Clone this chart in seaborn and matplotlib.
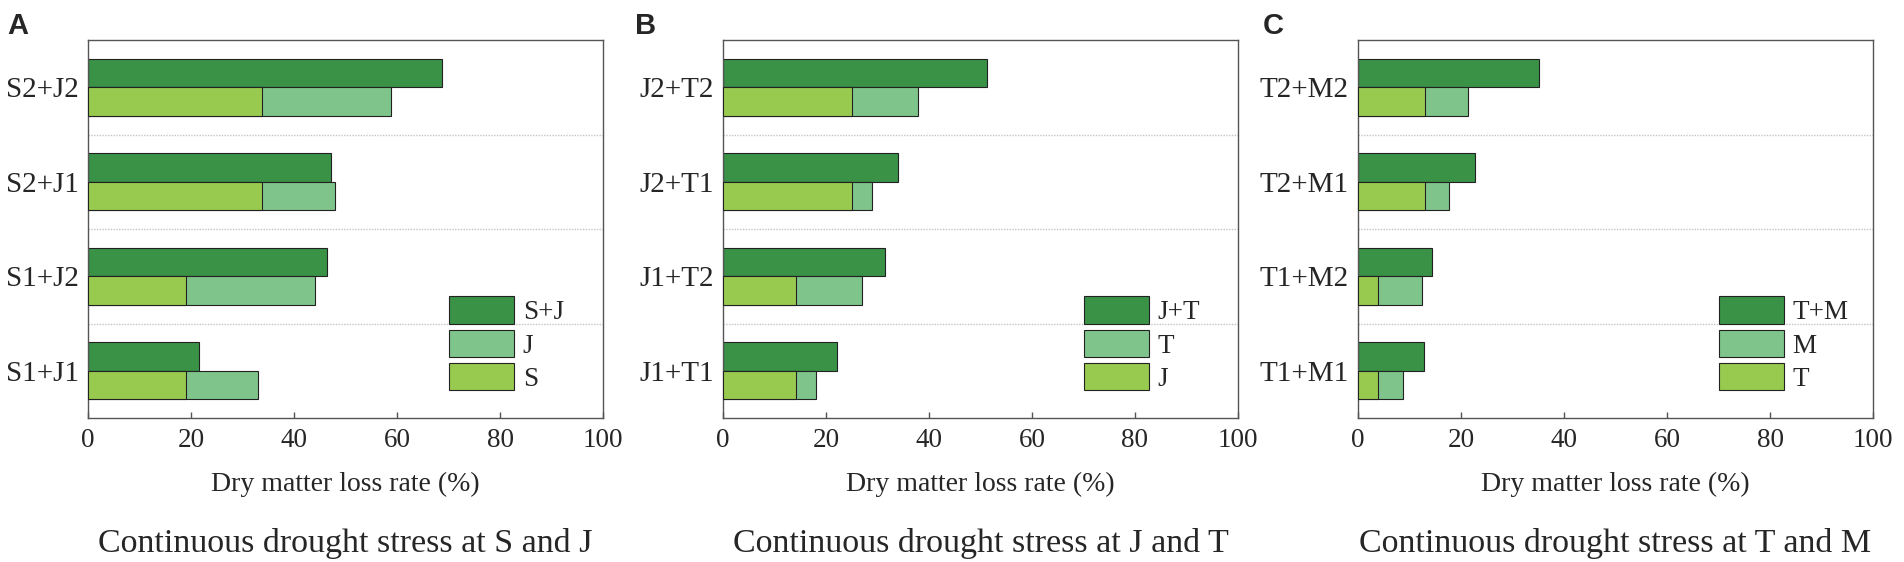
import numpy as np
import pandas as pd
import matplotlib
matplotlib.use("Agg")
import matplotlib.pyplot as plt
import seaborn as sns
from matplotlib.patches import Patch

sns.set_style("ticks")
plt.rcParams['font.family'] = ['Liberation Serif', 'DejaVu Serif']

# panel A: stress at S and J
cats_a = ["S2+J2", "S2+J1", "S1+J2", "S1+J1"]
combo_a = [68.7, 47.1, 46.5, 21.5]
first_a = [33.8, 33.8, 19.0, 19.0]
second_a = [25.0, 14.2, 25.1, 14.1]

# panel B: stress at J and T
cats_b = ["J2+T2", "J2+T1", "J1+T2", "J1+T1"]
combo_b = [51.2, 33.9, 31.4, 22.2]
first_b = [25.0, 25.0, 14.1, 14.1]
second_b = [12.9, 4.0, 12.9, 3.9]

# panel C: stress at T and M
cats_c = ["T2+M2", "T2+M1", "T1+M2", "T1+M1"]
combo_c = [35.1, 22.8, 14.4, 12.8]
first_c = [13.0, 13.0, 3.9, 3.9]
second_c = [8.3, 4.7, 8.5, 4.8]

legend_labels = [["S+J", "J", "S"], ["J+T", "T", "J"], ["T+M", "M", "T"]]
captions = ["Continuous drought stress at S and J",
            "Continuous drought stress at J and T",
            "Continuous drought stress at T and M"]
panel_letters = ["A", "B", "C"]

dark = "#3a9246"
mid = "#7fc48b"
light = "#98ca50"
edge = "#222222"
spine_col = "#555555"

panels = [(cats_a, combo_a, first_a, second_a),
          (cats_b, combo_b, first_b, second_b),
          (cats_c, combo_c, first_c, second_c)]

fig = plt.figure(figsize=(19.04, 5.62), dpi=100)
W, H = 1904, 562
lefts = [88, 723, 1358]
letter_x = [7, 635, 1263]

for i, (cats, combo, first, second) in enumerate(panels):
    ax = fig.add_axes([lefts[i] / W, 1 - 418 / H, 515 / W, 378 / H])

    totals = list(np.array(first) + np.array(second))
    df = pd.DataFrame({
        "cat": cats * 2,
        "value": combo + totals,
        "kind": ["combo"] * len(cats) + ["single"] * len(cats),
    })
    sns.barplot(data=df, y="cat", x="value", hue="kind",
                hue_order=["combo", "single"], order=cats, orient="h",
                palette={"combo": dark, "single": mid}, width=0.6,
                dodge=True, saturation=1, errorbar=None, edgecolor=edge,
                linewidth=0.8, legend=False, ax=ax, zorder=2)
    # first stage drawn over the lower bar
    df1 = pd.DataFrame({"cat": cats, "value": first, "kind": ["single"] * len(cats)})
    sns.barplot(data=df1, y="cat", x="value", hue="kind",
                hue_order=["combo", "single"], order=cats, orient="h",
                palette={"combo": dark, "single": light}, width=0.6,
                dodge=True, saturation=1, errorbar=None, edgecolor=edge,
                linewidth=0.8, legend=False, ax=ax, zorder=3)

    for yy in [0.5, 1.5, 2.5]:
        ax.axhline(yy, ls=(0, (1, 1)), color="#c4c4c4", lw=1.0, zorder=0)

    ax.set_xlim(0, 100)
    ax.set_ylim(len(cats) - 0.5, -0.5)
    ax.set_xticks(range(0, 101, 20))
    ax.set_ylabel("")
    ax.set_xlabel("Dry matter loss rate (%)", fontsize=20, labelpad=14)
    ax.tick_params(axis="x", direction="in", length=4, width=1,
                   color=spine_col, pad=7, labelsize=19.5)
    ax.tick_params(axis="y", length=0, pad=6.5, labelsize=21)
    for s in ax.spines.values():
        s.set_visible(True)
        s.set_color(spine_col)
        s.set_linewidth(1.0)

    labs = legend_labels[i]
    handles = [Patch(facecolor=dark, edgecolor=edge, lw=0.8, label=labs[0]),
               Patch(facecolor=mid, edgecolor=edge, lw=0.8, label=labs[1]),
               Patch(facecolor=light, edgecolor=edge, lw=0.8, label=labs[2])]
    ax.legend(handles=handles, loc="lower left", bbox_to_anchor=(0.701, 0.069),
              frameon=False, fontsize=19.5, handlelength=2.4, handleheight=1.17,
              labelspacing=0.17, handletextpad=0.32, borderpad=0, borderaxespad=0)

    fig.text((lefts[i] + 257.5) / W, 1 - 552 / H, captions[i], ha="center",
             va="baseline", fontsize=24.5)
    fig.text(letter_x[i] / W, 1 - 12 / H, panel_letters[i], ha="left", va="top",
             fontsize=21, fontweight="bold", family="Liberation Sans")

fig.savefig("out.png", dpi=100)
